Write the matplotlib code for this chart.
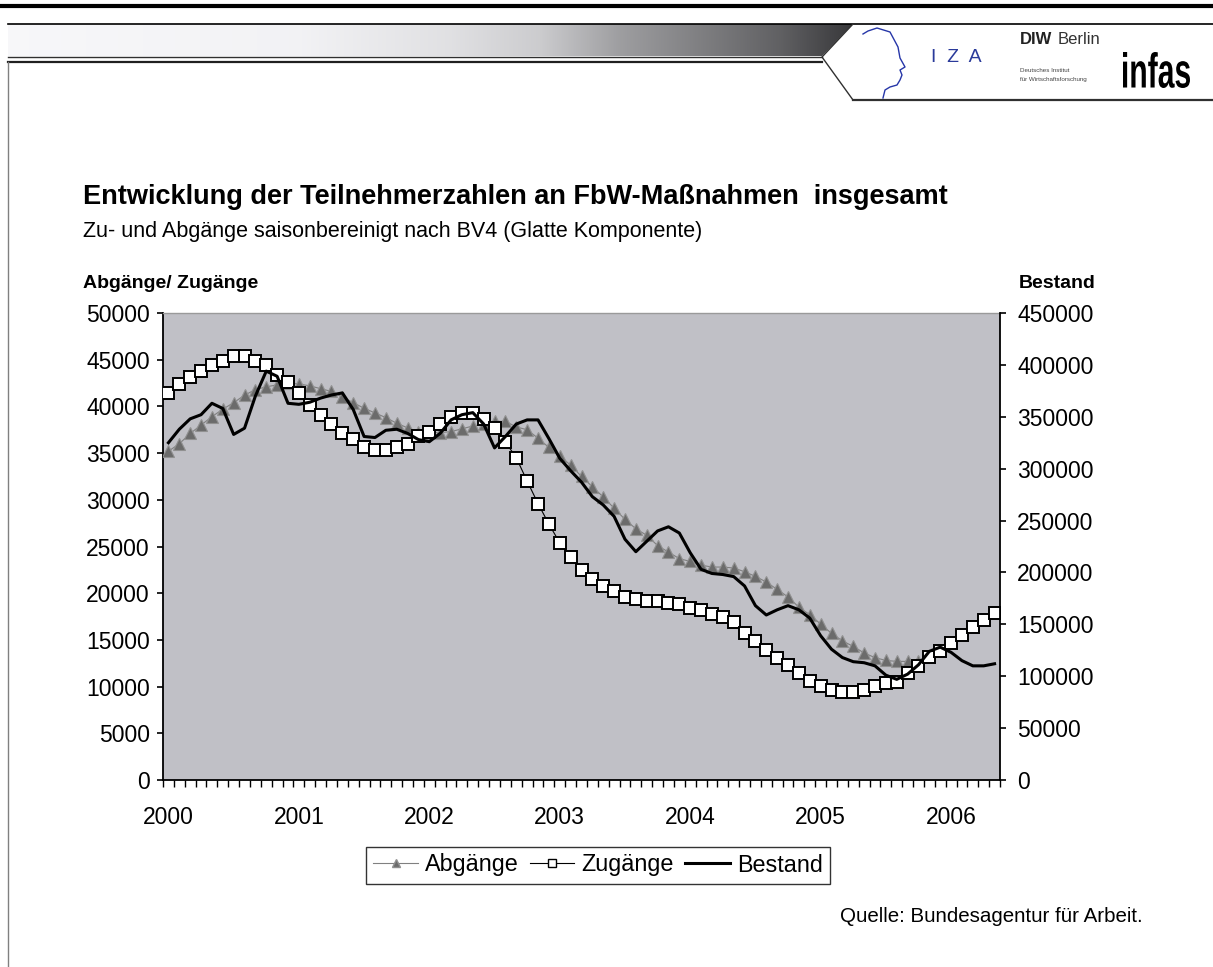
import numpy as np
import matplotlib
matplotlib.use("Agg")
import matplotlib.pyplot as plt
import matplotlib.ticker as ticker
from matplotlib.lines import Line2D
from matplotlib.patches import Polygon, PathPatch
from matplotlib.textpath import TextPath
from matplotlib.font_manager import FontProperties
from matplotlib.transforms import Affine2D

plt.rcParams['font.family'] = ['Liberation Sans', 'DejaVu Sans']

# monthly values, Jan 2000 .. May 2006
years = ['2000', '2001', '2002', '2003', '2004', '2005', '2006']

zugaenge = [41400, 42400, 43200, 43800, 44400, 44900, 45400, 45400, 44900, 44400, 43400, 42600,
            41400, 40200, 39100, 38100, 37100, 36500, 35700, 35300, 35300, 35600, 36000, 36800,
            37300, 38100, 38900, 39300, 39300, 38700, 37700, 36200, 34500, 32000, 29600, 27400,
            25400, 23900, 22500, 21500, 20800, 20200, 19600, 19400, 19200, 19200, 19000, 18800,
            18400, 18200, 17800, 17400, 16900, 15700, 14900, 13900, 13100, 12300, 11500, 10600,
            10100, 9600, 9400, 9400, 9600, 10100, 10400, 10500, 11500, 12200, 13200, 13800,
            14700, 15500, 16400, 17100, 17900]

abgaenge = [35200, 36000, 37100, 38000, 38900, 39700, 40400, 41200, 41800, 42100, 42300, 42500,
            42400, 42200, 41900, 41600, 41000, 40400, 39800, 39300, 38800, 38200, 37700, 37300,
            37200, 37200, 37300, 37600, 37900, 38100, 38400, 38400, 37800, 37500, 36600, 35600,
            34700, 33700, 32500, 31400, 30300, 29100, 27900, 26900, 26200, 25100, 24400, 23700,
            23400, 23000, 22800, 22800, 22700, 22300, 21800, 21200, 20400, 19600, 18500, 17700,
            16700, 15700, 14900, 14300, 13600, 13100, 12800, 12700, 12700, 12700]

bestand = [325000, 338000, 348000, 352000, 363000, 358000, 333000, 339000, 370000, 394000, 389000, 363000,
           362000, 364000, 368000, 371000, 373000, 357000, 331000, 330000, 337000, 338000, 334000, 328000,
           326000, 334000, 347000, 352000, 354000, 343000, 320000, 331000, 343000, 347000, 347000, 329000,
           310000, 298000, 287000, 273000, 265000, 254000, 232000, 220000, 230000, 240000, 244000, 238000,
           219000, 203000, 199000, 198000, 196000, 187000, 168000, 159000, 164000, 168000, 164000, 156000,
           139000, 126000, 118000, 114000, 113000, 110000, 101000, 97000, 102000, 111000, 124000, 128000,
           123000, 115000, 110000, 110000, 112000]

months = np.arange(len(zugaenge))

W, H = 1213, 967
fig = plt.figure(figsize=(W / 100, H / 100), dpi=100)

# ---- page decoration (pixel coordinates) ----
deco = fig.add_axes([0, 0, 1, 1], zorder=0)
deco.set_xlim(0, W)
deco.set_ylim(H, 0)
deco.axis('off')

deco.plot([0, W], [5.5, 5.5], color='black', lw=3.0, solid_capstyle='butt')

gx = np.linspace(8, 853, 400)
stops_x = [8, 300, 450, 540, 620, 700, 780, 853]
stops_g = [0.97, 0.95, 0.88, 0.80, 0.62, 0.50, 0.38, 0.22]
g = np.interp(gx, stops_x, stops_g)
grad = np.dstack([g, g, g + 0.01]).clip(0, 1)
im = deco.imshow(grad, extent=[8, 853, 56, 24], aspect='auto', zorder=1)
clip = Polygon([(8, 24), (853, 24), (822, 56), (8, 56)], closed=True, transform=deco.transData)
im.set_clip_path(clip)

deco.plot([8, W], [23.5, 23.5], color='black', lw=1.2)
deco.plot([8, 822], [56.5, 56.5], color='#303030', lw=1.0)
deco.plot([8, 822], [62, 62], color='#202020', lw=1.6)
deco.plot([853, 822, 853], [24, 57, 100], color='#303030', lw=1.0)
deco.plot([853, W], [100, 100], color='#303030', lw=1.6)
deco.plot([8, 8], [62, H], color='#808080', lw=1.0)

# IZA logo
head_x = [863, 868, 877, 890, 898, 900, 905, 900, 902, 900, 897, 890, 885, 883]
head_y = [34, 31, 28, 32, 47, 58, 67, 70, 75, 80, 85, 87, 90, 98]
deco.plot(head_x, head_y, color='#2636a8', lw=1.0)
deco.text(956, 58, 'I  Z  A', color='#2a3a9a', fontsize=14, ha='center', va='center')

# DIW logo
deco.text(1020, 40, 'DIW', fontsize=12, weight='bold', va='center', color='#222222')
deco.text(1058, 40, 'Berlin', fontsize=12, va='center', color='#333333')
deco.text(1020, 71, 'Deutsches Institut', fontsize=4.5, va='center', color='#444444')
deco.text(1020, 80, 'für Wirtschaftsforschung', fontsize=4.5, va='center', color='#444444')

# infas logo, squeezed into its box
tp = TextPath((0, 0), 'infas', size=1, prop=FontProperties(family='Liberation Sans', weight='bold'))
ext = tp.get_extents()
sx = (1190 - 1123) / ext.width
sy = (88 - 52) / ext.height
tr = Affine2D().translate(-ext.x0, -ext.y0).scale(sx, -sy).translate(1123, 88)
deco.add_patch(PathPatch(tr.transform_path(tp), color='black', lw=0))

# titles
fig.text(83 / W, 1 - 197 / H, 'Entwicklung der Teilnehmerzahlen an FbW-Maßnahmen  insgesamt',
         fontsize=19.5, weight='bold', va='center', ha='left')
fig.text(83 / W, 1 - 232 / H, 'Zu- und Abgänge saisonbereinigt nach BV4 (Glatte Komponente)',
         fontsize=15.5, va='center', ha='left')
fig.text(83 / W, 1 - 284 / H, 'Abgänge/ Zugänge', fontsize=14, weight='bold', va='center', ha='left')
fig.text(1096 / W, 1 - 284 / H, 'Bestand', fontsize=14, weight='bold', va='center', ha='right')
fig.text(840 / W, 1 - 917 / H, 'Quelle: Bundesagentur für Arbeit.', fontsize=14.8, va='center', ha='left')

# ---- chart ----
ax = fig.add_axes([163 / W, 187 / H, 837 / W, 467 / H], zorder=2)
ax.set_facecolor('#c0c0c6')
ax.plot(months[:len(abgaenge)], abgaenge, color='#808080', lw=0.8, marker='^', ms=8.5,
        mfc='#6b6b6b', mec='#909090', mew=0.8, zorder=3)
ax.plot(months, zugaenge, color='black', lw=0.8, marker='s', ms=8, mfc='white',
        mec='black', mew=1.4, zorder=4)

ax.set_xlim(-0.5, len(months) - 0.5)
ax.set_ylim(0, 50000)
ax.set_yticks(np.arange(0, 50001, 5000))
ax.yaxis.set_major_formatter(ticker.StrMethodFormatter('{x:.0f}'))
ax.set_xticks(np.arange(0, len(months), 12))
ax.set_xticklabels(years)
ax.set_xticks(np.arange(-0.5, len(months), 1), minor=True)
ax.tick_params(axis='x', which='major', length=0, pad=19, labelsize=16.5)
ax.tick_params(axis='x', which='minor', length=5, width=1.0, direction='out')
ax.tick_params(axis='y', length=4.5, width=1.2, direction='out', labelsize=16.5, pad=5)
for side in ['left', 'bottom']:
    ax.spines[side].set_linewidth(1.3)
ax.spines['top'].set_color('#9a9a9a')
ax.spines['top'].set_linewidth(1.0)
ax.spines['right'].set_visible(False)

ax2 = ax.twinx()
ax2.plot(months, bestand, color='black', lw=2.2, zorder=5)
ax2.set_ylim(0, 450000)
ax2.set_yticks(np.arange(0, 450001, 50000))
ax2.yaxis.set_major_formatter(ticker.StrMethodFormatter('{x:.0f}'))
ax2.tick_params(axis='y', length=4.5, width=1.2, direction='out', labelsize=16.5, pad=8)
ax2.spines['right'].set_linewidth(1.3)
for side in ['left', 'top', 'bottom']:
    ax2.spines[side].set_visible(False)

handles = [
    Line2D([], [], color='#808080', lw=0.8, marker='^', ms=6, mfc='#6b6b6b', mec='#909090'),
    Line2D([], [], color='black', lw=0.8, marker='s', ms=5.5, mfc='white', mec='black', mew=1.0),
    Line2D([], [], color='black', lw=2.2),
]
leg = fig.legend(handles, ['Abgänge', 'Zugänge', 'Bestand'], loc='center',
                 bbox_to_anchor=(598 / W, 1 - 865 / H), ncol=3, fontsize=16.8,
                 frameon=True, fancybox=False, handlelength=1.9, handletextpad=0.3,
                 columnspacing=0.5, borderpad=0.3)
leg.get_frame().set_edgecolor('black')
leg.get_frame().set_linewidth(1.0)

fig.savefig('out.png', dpi=100)
